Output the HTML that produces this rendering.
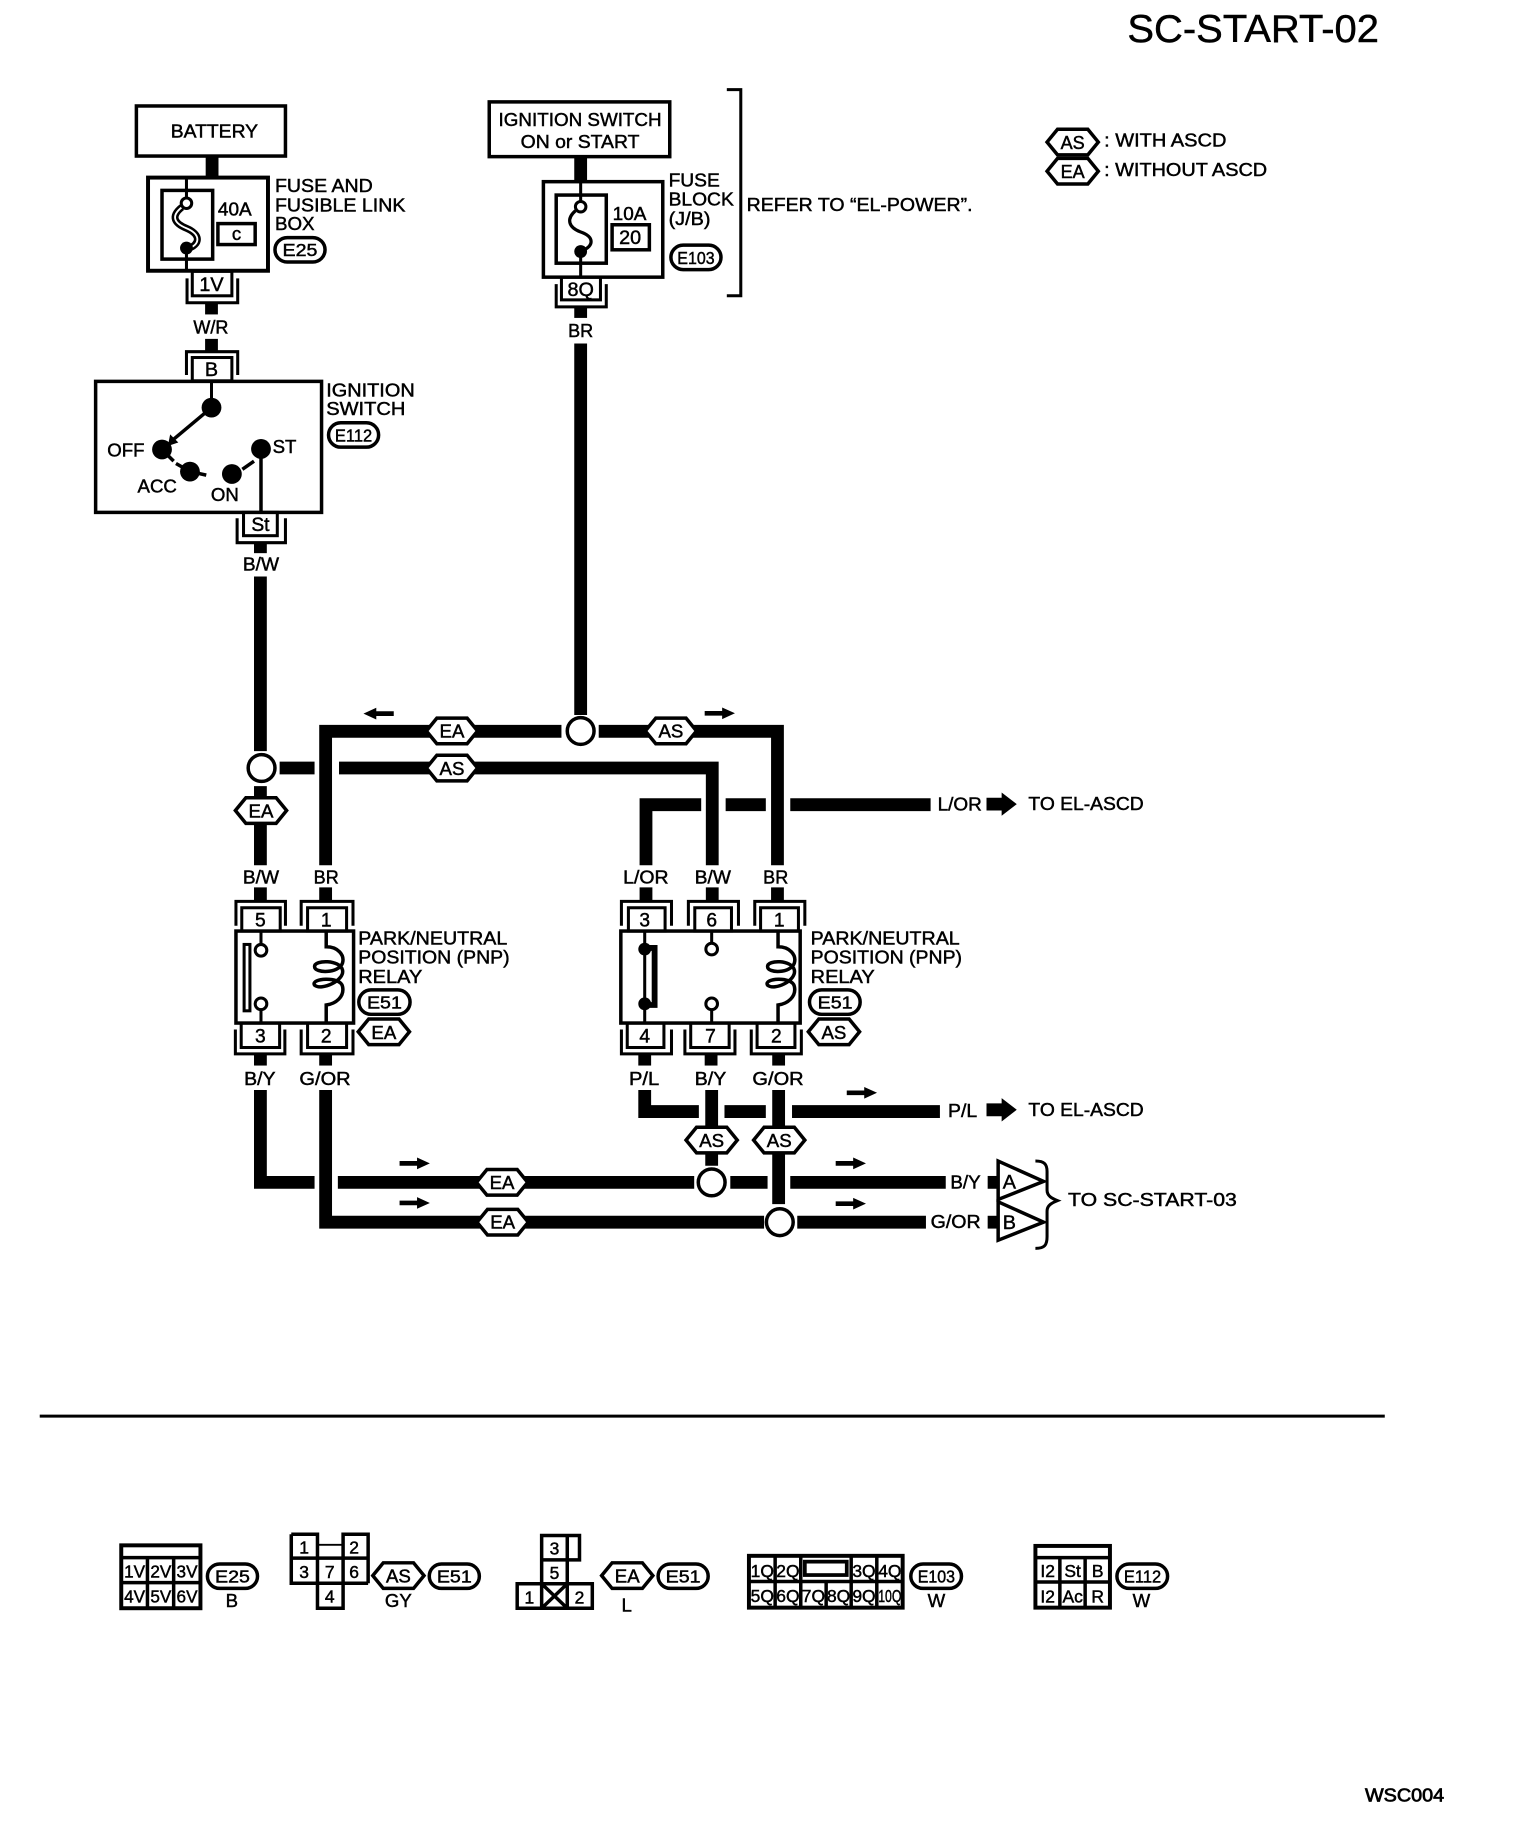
<!DOCTYPE html>
<html><head><meta charset="utf-8"><title>SC-START-02</title>
<style>
html,body{margin:0;padding:0;background:#fff}
svg{display:block}
text{font-family:"Liberation Sans",Arial,sans-serif;fill:#000;stroke:#000;stroke-width:.4;font-size:16px}
.m{text-anchor:middle}
.w{fill:none;stroke:#000;stroke-width:11;stroke-linejoin:miter}
.n{fill:none;stroke:#000;stroke-width:3}
.t{fill:none;stroke:#000;stroke-width:2.6}
.b{fill:#fff;stroke:#000;stroke-width:3}
.s{font-size:14.5px}
.c{font-size:15px}
</style></head><body>
<svg xmlns="http://www.w3.org/2000/svg" width="1520" height="1826" viewBox="0 0 1305 1568">
<defs>
<path id="hx" d="M-22,0 L-13,-11 L13,-11 L22,0 L13,11 L-13,11Z" fill="#fff" stroke="#000" stroke-width="3"/>
<path id="ar" d="M-13,-2 H2 V-5 L13,0 L2,5 V2 H-13Z" fill="#000"/>
<path id="bar" d="M-13,-5.5 H0 V-10 L13,0 L0,10 V5.5 H-13Z" fill="#000"/>
</defs>
<rect width="1305" height="1568" fill="#fff"/>

<text x="968" y="36" style="font-size:33.5px" textLength="216" lengthAdjust="spacingAndGlyphs">SC-START-02</text>

<!-- wires -->
<line class="w" x1="182" y1="133" x2="182" y2="153"/>
<line class="w" x1="181.5" y1="260" x2="181.5" y2="270"/>
<line class="w" x1="181.5" y1="291" x2="181.5" y2="302"/>
<line class="w" x1="498.5" y1="135" x2="498.5" y2="156"/>
<line class="w" x1="498.5" y1="263" x2="498.5" y2="273"/>
<line class="w" x1="498.5" y1="295" x2="498.5" y2="614"/>
<line class="w" x1="223.5" y1="466" x2="223.5" y2="475"/>
<line class="w" x1="223.5" y1="495" x2="223.5" y2="645"/>
<line class="w" x1="223.5" y1="675" x2="223.5" y2="743"/>
<polyline class="w" points="279.5,743 279.5,628 482,628"/>
<polyline class="w" points="514,628 667.5,628 667.5,743"/>
<line class="w" x1="240" y1="659.5" x2="270" y2="659.5"/>
<polyline class="w" points="291,659.5 611.5,659.5 611.5,743"/>
<polyline class="w" points="554.6,743 554.6,691 602,691"/>
<line class="w" x1="623" y1="691" x2="657.5" y2="691"/>
<line class="w" x1="678.5" y1="691" x2="799" y2="691"/>
<line class="w" x1="223.5" y1="762" x2="223.5" y2="774"/>
<line class="w" x1="279.5" y1="762" x2="279.5" y2="774"/>
<line class="w" x1="554.6" y1="762" x2="554.6" y2="774"/>
<line class="w" x1="611.5" y1="762" x2="611.5" y2="774"/>
<line class="w" x1="667.5" y1="762" x2="667.5" y2="774"/>
<line class="w" x1="223.5" y1="905" x2="223.5" y2="915"/>
<line class="w" x1="279.5" y1="905" x2="279.5" y2="915"/>
<line class="w" x1="553.5" y1="905" x2="553.5" y2="915"/>
<line class="w" x1="610.5" y1="905" x2="610.5" y2="915"/>
<line class="w" x1="668.5" y1="905" x2="668.5" y2="915"/>
<polyline class="w" points="223.5,936 223.5,1015.3 270,1015.3"/>
<line class="w" x1="290" y1="1015.3" x2="596" y2="1015.3"/>
<line class="w" x1="627" y1="1015.3" x2="659" y2="1015.3"/>
<line class="w" x1="678.5" y1="1015.3" x2="812" y2="1015.3"/>
<polyline class="w" points="279.5,936 279.5,1049.5 656,1049.5"/>
<line class="w" x1="684.5" y1="1049.5" x2="795" y2="1049.5"/>
<polyline class="w" points="553.5,936 553.5,954.5 600,954.5"/>
<line class="w" x1="622" y1="954.5" x2="657.5" y2="954.5"/>
<line class="w" x1="680" y1="954.5" x2="807" y2="954.5"/>
<line class="w" x1="611" y1="936" x2="611" y2="1001"/>
<line class="w" x1="668.5" y1="936" x2="668.5" y2="1034"/>
<line class="w" x1="848" y1="1015.3" x2="858" y2="1015.3"/>
<line class="w" x1="848" y1="1049.5" x2="858" y2="1049.5"/>

<!-- junctions -->
<circle class="b" cx="498.5" cy="627.7" r="11.5"/>
<circle class="b" cx="224.5" cy="659.5" r="11.5"/>
<circle class="b" cx="611" cy="1015.3" r="11.5"/>
<circle class="b" cx="669.5" cy="1049.5" r="11.5"/>

<!-- Battery -->
<rect class="n" x="117" y="91" width="128" height="43"/>
<text class="m" x="184" y="118" textLength="75" lengthAdjust="spacingAndGlyphs">BATTERY</text>

<!-- Fuse link box -->
<rect class="n" x="127" y="152.5" width="103" height="80" style="stroke-width:3.4"/>
<rect class="n" x="139" y="163.5" width="43.5" height="59"/>
<line class="t" x1="160" y1="152" x2="160" y2="172"/>
<line class="t" x1="160" y1="213" x2="160" y2="233"/>
<path d="M156,178 C146,186 150,192 160,196 C172,201 173,210 160,214" fill="none" stroke="#000" stroke-width="6"/>
<path d="M156,178 C146,186 150,192 160,196 C172,201 173,210 160,214" fill="none" stroke="#fff" stroke-width="1.6"/>
<circle cx="160" cy="174.5" r="4.5" fill="#fff" stroke="#000" stroke-width="2.6"/>
<circle cx="160" cy="213" r="5.5" fill="#000"/>
<text x="187" y="185" textLength="29" lengthAdjust="spacingAndGlyphs">40A</text>
<rect class="n" x="187" y="192" width="32" height="18"/>
<text class="m" x="203" y="206" style="font-size:16px">c</text>
<text x="236" y="165" textLength="84" lengthAdjust="spacingAndGlyphs">FUSE AND</text>
<text x="236" y="181.5" textLength="112" lengthAdjust="spacingAndGlyphs">FUSIBLE LINK</text>
<text x="236" y="197.5" textLength="34" lengthAdjust="spacingAndGlyphs">BOX</text>
<rect class="n" x="236" y="204" width="43" height="21" rx="10.5"/>
<text class="m c" x="257.5" y="220" textLength="30" lengthAdjust="spacingAndGlyphs">E25</text>

<!-- 1V connector -->
<rect class="t" x="165" y="233" width="34" height="21"/>
<path class="t" d="M160.5,239 V260 H204 V239"/>
<text class="m" x="181.5" y="250" style="font-size:17px">1V</text>
<text class="m" x="181" y="286.5" style="font-size:15.5px">W/R</text>

<!-- B connector -->
<rect class="t" x="165" y="307" width="34" height="20"/>
<path class="t" d="M160,322 V302 H204 V322"/>
<text class="m" x="181.5" y="323" style="font-size:17px">B</text>

<!-- Ignition switch -->
<rect class="n" x="82" y="327.5" width="194" height="112.5"/>
<line class="t" x1="181.5" y1="327" x2="181.5" y2="350"/>
<circle cx="181.5" cy="350" r="8.5" fill="#000"/>
<line x1="181.5" y1="350" x2="148" y2="378" stroke="#000" stroke-width="3"/>
<path d="M144,383 L146,373 L153,380Z" fill="#000"/>
<circle cx="139" cy="386" r="8.5" fill="#000"/>
<circle cx="163" cy="405" r="8.5" fill="#000"/>
<circle cx="199" cy="407" r="8.5" fill="#000"/>
<circle cx="224" cy="385.5" r="8.5" fill="#000"/>
<line x1="144" y1="391" x2="149" y2="396" stroke="#000" stroke-width="3"/>
<line x1="151" y1="398" x2="158" y2="402" stroke="#000" stroke-width="3"/>
<line x1="168" y1="406" x2="177" y2="408" stroke="#000" stroke-width="3"/>
<line x1="208" y1="403" x2="218" y2="396" stroke="#000" stroke-width="3"/>
<line class="t" x1="224" y1="385" x2="224" y2="440" style="stroke-width:3"/>
<text x="92" y="392">OFF</text>
<text x="234" y="389">ST</text>
<text x="118" y="423">ACC</text>
<text x="181" y="430">ON</text>
<text x="280" y="340.5" textLength="76" lengthAdjust="spacingAndGlyphs">IGNITION</text>
<text x="280" y="356.5" textLength="68" lengthAdjust="spacingAndGlyphs">SWITCH</text>
<rect class="n" x="282" y="363" width="43" height="21" rx="10.5"/>
<text class="m c" x="303.5" y="379" textLength="32" lengthAdjust="spacingAndGlyphs">E112</text>
<rect class="t" x="209" y="440" width="29" height="20"/>
<path class="t" d="M203.5,445 V466 H245 V445"/>
<text class="m" x="223.5" y="456" style="font-size:16.5px">St</text>
<text class="m" x="224" y="490" style="font-size:15.5px" textLength="31" lengthAdjust="spacingAndGlyphs">B/W</text>

<!-- Ignition switch ON or START -->
<rect class="n" x="420" y="87.5" width="155" height="47"/>
<text class="m" x="498" y="108" textLength="140" lengthAdjust="spacingAndGlyphs">IGNITION SWITCH</text>
<text class="m" x="498" y="127" textLength="102" lengthAdjust="spacingAndGlyphs">ON or START</text>
<rect class="n" x="466.5" y="156" width="102.5" height="82"/>
<rect class="n" x="477.5" y="167.5" width="43" height="58.5"/>
<line class="t" x1="498.5" y1="156" x2="498.5" y2="173"/>
<line class="t" x1="498.5" y1="216" x2="498.5" y2="238"/>
<path d="M494,181 C486,188 488,195 498,199 C510,203 511,211 498.5,216" fill="none" stroke="#000" stroke-width="2.8"/>
<circle cx="498.5" cy="177.5" r="4.5" fill="#fff" stroke="#000" stroke-width="2.6"/>
<circle cx="498.5" cy="216" r="5.5" fill="#000"/>
<text x="526" y="189" textLength="29" lengthAdjust="spacingAndGlyphs">10A</text>
<rect class="n" x="525.5" y="193" width="32" height="21.5"/>
<text class="m" x="541" y="209.5" style="font-size:17px">20</text>
<text x="574" y="160" textLength="44" lengthAdjust="spacingAndGlyphs">FUSE</text>
<text x="574" y="176.5" textLength="56" lengthAdjust="spacingAndGlyphs">BLOCK</text>
<text x="574" y="193" textLength="36" lengthAdjust="spacingAndGlyphs">(J/B)</text>
<rect class="n" x="576" y="210.5" width="43" height="21" rx="10.5"/>
<text class="m c" x="597.5" y="226.5" textLength="32" lengthAdjust="spacingAndGlyphs">E103</text>
<rect class="t" x="482" y="238" width="33.5" height="19.5"/>
<path class="t" d="M477.5,244 V263.5 H520.5 V244"/>
<text class="m" x="498.5" y="254" style="font-size:17px">8Q</text>
<text class="m" x="498.5" y="289.5" style="font-size:15.5px">BR</text>
<path d="M624,77 H636 V254 H624" fill="none" stroke="#000" stroke-width="2.6"/>
<text x="641" y="181" textLength="194" lengthAdjust="spacingAndGlyphs">REFER TO “EL-POWER”.</text>

<!-- legend -->
<use href="#hx" x="921" y="122"/>
<text class="m" x="921" y="128" style="font-size:15.5px">AS</text>
<use href="#hx" x="921" y="147"/>
<text class="m" x="921" y="153" style="font-size:15.5px">EA</text>
<text x="948" y="126" textLength="105" lengthAdjust="spacingAndGlyphs">: WITH ASCD</text>
<text x="948" y="151" textLength="140" lengthAdjust="spacingAndGlyphs">: WITHOUT ASCD</text>

<!-- wire hexes -->
<use href="#hx" x="388" y="627.7"/><text class="m" x="388" y="633.5" style="font-size:16px">EA</text>
<use href="#hx" x="576" y="627.7"/><text class="m" x="576" y="633.5" style="font-size:16px">AS</text>
<use href="#hx" x="388" y="659.5"/><text class="m" x="388" y="665.5" style="font-size:16px">AS</text>
<use href="#hx" x="224" y="696"/><text class="m" x="224" y="702" style="font-size:16px">EA</text>
<use href="#hx" x="431" y="1015.3"/><text class="m" x="431" y="1021" style="font-size:16px">EA</text>
<use href="#hx" x="431.5" y="1049.5"/><text class="m" x="431.5" y="1055" style="font-size:16px">EA</text>
<use href="#hx" x="611" y="979"/><text class="m" x="611" y="985" style="font-size:16px">AS</text>
<use href="#hx" x="669" y="979"/><text class="m" x="669" y="985" style="font-size:16px">AS</text>

<!-- flow arrows -->
<use href="#ar" transform="translate(325,612.8) scale(-1,1)"/>
<use href="#ar" transform="translate(618,612.5)"/>
<use href="#ar" transform="translate(356,999)"/>
<use href="#ar" transform="translate(356,1033)"/>
<use href="#ar" transform="translate(730.5,999)"/>
<use href="#ar" transform="translate(730.5,1033.6)"/>
<use href="#ar" transform="translate(740,938.4)"/>

<!-- wire labels -->
<text class="m" x="224" y="758.5" style="font-size:15.5px" textLength="31" lengthAdjust="spacingAndGlyphs">B/W</text>
<text class="m" x="280" y="758.5" style="font-size:15.5px">BR</text>
<text class="m" x="554.5" y="758.5" style="font-size:15.5px" textLength="39" lengthAdjust="spacingAndGlyphs">L/OR</text>
<text class="m" x="612" y="758.5" style="font-size:15.5px" textLength="31" lengthAdjust="spacingAndGlyphs">B/W</text>
<text class="m" x="666" y="758.5" style="font-size:15.5px">BR</text>
<text class="m" x="223" y="931.5" style="font-size:15.5px" textLength="27" lengthAdjust="spacingAndGlyphs">B/Y</text>
<text class="m" x="279" y="931.5" style="font-size:15.5px" textLength="44" lengthAdjust="spacingAndGlyphs">G/OR</text>
<text class="m" x="553" y="931.5" style="font-size:15.5px" textLength="26" lengthAdjust="spacingAndGlyphs">P/L</text>
<text class="m" x="610" y="931.5" style="font-size:15.5px" textLength="27" lengthAdjust="spacingAndGlyphs">B/Y</text>
<text class="m" x="668" y="931.5" style="font-size:15.5px" textLength="44" lengthAdjust="spacingAndGlyphs">G/OR</text>

<!-- Left relay -->
<rect class="n" x="202.5" y="799.5" width="101" height="79"/>
<rect class="t" x="207.5" y="779.5" width="33" height="20"/>
<path class="t" d="M202.5,795 V774 H245 V795"/>
<text class="m" x="223.5" y="795.5" style="font-size:16.5px">5</text>
<rect class="t" x="264" y="779.5" width="33.5" height="20"/>
<path class="t" d="M258.5,795 V774 H303 V795"/>
<text class="m" x="280" y="795.5" style="font-size:16.5px">1</text>
<rect class="t" x="207" y="878.5" width="33" height="21"/>
<path class="t" d="M202,884 V905 H244.5 V884"/>
<text class="m" x="223.5" y="895" style="font-size:16.5px">3</text>
<rect class="t" x="264" y="878.5" width="33.5" height="21"/>
<path class="t" d="M258.5,884 V905 H303 V884"/>
<text class="m" x="280" y="895" style="font-size:16.5px">2</text>
<line class="t" x1="224" y1="799" x2="224" y2="811"/>
<circle cx="224" cy="816" r="5" fill="#fff" stroke="#000" stroke-width="2.6"/>
<line class="t" x1="224" y1="867" x2="224" y2="878"/>
<circle cx="224" cy="862" r="5" fill="#fff" stroke="#000" stroke-width="2.6"/>
<rect class="t" x="209.5" y="811" width="5" height="57"/>
<path class="n" d="M280,799 V813 C290,813 296,820 294,827 C291,836 270,836 270,830 C270,824 292,824 294,833 C296,842 276,851 270,846 C266,840 292,838 294,847 C296,856 288,862 280,863 V878"/>

<text x="307.5" y="811" textLength="128" lengthAdjust="spacingAndGlyphs">PARK/NEUTRAL</text>
<text x="307.5" y="827.5" textLength="130" lengthAdjust="spacingAndGlyphs">POSITION (PNP)</text>
<text x="307.5" y="844" textLength="55" lengthAdjust="spacingAndGlyphs">RELAY</text>
<rect class="n" x="308" y="850" width="44" height="21" rx="10.5"/>
<text class="m c" x="330" y="866" textLength="30" lengthAdjust="spacingAndGlyphs">E51</text>
<use href="#hx" x="329.5" y="886"/><text class="m" x="329.5" y="892" style="font-size:16px">EA</text>

<!-- Right relay -->
<rect class="n" x="533" y="799.5" width="154" height="79"/>
<rect class="t" x="539.5" y="779.5" width="31.5" height="20"/>
<path class="t" d="M533.5,795 V774 H576.5 V795"/>
<text class="m" x="553.5" y="795.5" style="font-size:16.5px">3</text>
<rect class="t" x="596.5" y="779.5" width="31.5" height="20"/>
<path class="t" d="M591,795 V774 H634 V795"/>
<text class="m" x="611" y="795.5" style="font-size:16.5px">6</text>
<rect class="t" x="653" y="779.5" width="32.5" height="20"/>
<path class="t" d="M648,795 V774 H691 V795"/>
<text class="m" x="669" y="795.5" style="font-size:16.5px">1</text>
<rect class="t" x="538.5" y="878.5" width="31.5" height="21"/>
<path class="t" d="M533.5,884 V905 H576.5 V884"/>
<text class="m" x="553.5" y="895" style="font-size:16.5px">4</text>
<rect class="t" x="593" y="878.5" width="33" height="21"/>
<path class="t" d="M588,884 V905 H631 V884"/>
<text class="m" x="610" y="895" style="font-size:16.5px">7</text>
<rect class="t" x="650" y="878.5" width="32.5" height="21"/>
<path class="t" d="M645,884 V905 H688 V884"/>
<text class="m" x="666.5" y="895" style="font-size:16.5px">2</text>
<line class="t" x1="553.5" y1="799" x2="553.5" y2="878"/>
<circle cx="553.5" cy="815" r="5.5" fill="#000"/>
<circle cx="553.5" cy="862" r="5.5" fill="#000"/>
<path d="M553.5,814 H562 V863 H553.5" fill="none" stroke="#000" stroke-width="5"/>
<line class="t" x1="611" y1="799" x2="611" y2="810"/>
<circle cx="611" cy="815" r="5" fill="#fff" stroke="#000" stroke-width="2.6"/>
<line class="t" x1="611" y1="867" x2="611" y2="878"/>
<circle cx="611" cy="862" r="5" fill="#fff" stroke="#000" stroke-width="2.6"/>
<path class="n" d="M668,799 V813 C678,813 684,820 682,827 C679,836 659,836 659,830 C659,824 680,824 682,833 C684,842 665,851 659,846 C655,840 680,838 682,847 C684,856 676,862 668,863 V878"/>

<text x="696" y="811" textLength="128" lengthAdjust="spacingAndGlyphs">PARK/NEUTRAL</text>
<text x="696" y="827.5" textLength="130" lengthAdjust="spacingAndGlyphs">POSITION (PNP)</text>
<text x="696" y="844" textLength="55" lengthAdjust="spacingAndGlyphs">RELAY</text>
<rect class="n" x="695" y="850" width="43.5" height="21" rx="10.5"/>
<text class="m c" x="717" y="866" textLength="30" lengthAdjust="spacingAndGlyphs">E51</text>
<use href="#hx" x="716" y="886"/><text class="m" x="716" y="892" style="font-size:16px">AS</text>

<!-- outgoing -->
<text x="805" y="696" textLength="38" lengthAdjust="spacingAndGlyphs" style="font-size:15.5px">L/OR</text>
<use href="#bar" transform="translate(860,690.5)"/>
<text x="883" y="695.5" textLength="99" lengthAdjust="spacingAndGlyphs">TO EL-ASCD</text>
<text x="814" y="959" textLength="25" lengthAdjust="spacingAndGlyphs" style="font-size:15.5px">P/L</text>
<use href="#bar" transform="translate(860,953)"/>
<text x="883" y="958.5" textLength="99" lengthAdjust="spacingAndGlyphs">TO EL-ASCD</text>
<text x="816" y="1020.5" textLength="26" lengthAdjust="spacingAndGlyphs" style="font-size:15.5px">B/Y</text>
<text x="799" y="1054.5" textLength="43" lengthAdjust="spacingAndGlyphs" style="font-size:15.5px">G/OR</text>
<path class="n" d="M857,997 L896,1014.5 L857,1030Z" style="fill:#fff"/>
<text x="861" y="1020.5" style="font-size:17px">A</text>
<path class="n" d="M857,1032 L896,1049.5 L857,1065Z" style="fill:#fff"/>
<text x="861" y="1055.5" style="font-size:17px">B</text>
<path d="M889,997 C897,997 899,1000 899,1006 V1022 C899,1027 903,1029 908,1031 C903,1033 899,1035 899,1040 V1062 C899,1069 897,1072 889,1072" fill="none" stroke="#000" stroke-width="2.6"/>
<text x="917" y="1035.5" textLength="145" lengthAdjust="spacingAndGlyphs">TO SC-START-03</text>

<!-- rule -->
<line x1="34" y1="1216" x2="1189" y2="1216" stroke="#000" stroke-width="2.6"/>

<!-- E25 connector -->
<rect class="n" x="104" y="1327" width="68" height="54" style="stroke-width:3.4"/>
<path class="n" d="M104,1337.5 H172 M104,1359 H172 M126.5,1337.5 V1381 M149,1337.5 V1381"/>
<text class="m c" x="115.5" y="1354.5" textLength="18" lengthAdjust="spacingAndGlyphs">1V</text>
<text class="m c" x="138" y="1354.5" textLength="18" lengthAdjust="spacingAndGlyphs">2V</text>
<text class="m c" x="160.5" y="1354.5" textLength="18" lengthAdjust="spacingAndGlyphs">3V</text>
<text class="m c" x="115.5" y="1376" textLength="18" lengthAdjust="spacingAndGlyphs">4V</text>
<text class="m c" x="138" y="1376" textLength="18" lengthAdjust="spacingAndGlyphs">5V</text>
<text class="m c" x="160.5" y="1376" textLength="18" lengthAdjust="spacingAndGlyphs">6V</text>
<rect class="n" x="178" y="1343" width="43" height="21" rx="10.5"/>
<text class="m c" x="199.5" y="1359" textLength="30" lengthAdjust="spacingAndGlyphs">E25</text>
<text class="m" x="199" y="1380">B</text>

<!-- E51 AS connector -->
<path class="n" d="M250,1317.5 H272.5 V1338 M294.5,1338 V1317.5 H316 V1359.5 M250,1317.5 V1359.5 H316 M250,1338 H316 M272.5,1338 V1381 H294.5 V1338"/>
<line x1="272" y1="1326.5" x2="295" y2="1326.5" stroke="#000" stroke-width="1.6"/>
<text class="m c" x="261" y="1334">1</text>
<text class="m c" x="304" y="1334">2</text>
<text class="m c" x="261" y="1355">3</text>
<text class="m c" x="283" y="1355">7</text>
<text class="m c" x="304" y="1355">6</text>
<text class="m c" x="283" y="1376">4</text>
<use href="#hx" x="342" y="1353"/><text class="m" x="342" y="1359" style="font-size:16px">AS</text>
<rect class="n" x="368.5" y="1343" width="43" height="21" rx="10.5"/>
<text class="m c" x="390" y="1359" textLength="30" lengthAdjust="spacingAndGlyphs">E51</text>
<text class="m" x="342" y="1380">GY</text>

<!-- E51 EA connector -->
<path class="n" d="M465,1360 V1318.5 H497.5 V1339.5 H465 M487,1318.5 V1360 M444,1360 H508.5 V1381 H444Z M465,1360 V1381 M487,1360 V1381 M465,1360 L487,1381 M487,1360 L465,1381"/>
<text class="m c" x="476" y="1335">3</text>
<text class="m c" x="476" y="1356">5</text>
<text class="m c" x="454.5" y="1377">1</text>
<text class="m c" x="497.5" y="1377">2</text>
<use href="#hx" x="538.5" y="1353"/><text class="m" x="538.5" y="1359" style="font-size:16px">EA</text>
<rect class="n" x="565" y="1343" width="43" height="21" rx="10.5"/>
<text class="m c" x="586.5" y="1359" textLength="30" lengthAdjust="spacingAndGlyphs">E51</text>
<text class="m" x="538" y="1384">L</text>

<!-- E103 connector -->
<rect class="n" x="643" y="1336" width="132" height="44.5" style="stroke-width:3.4"/>
<path class="n" d="M643,1358 H775 M665.5,1336 V1380.5 M687.5,1336 V1380.5 M730.8,1336 V1380.5 M752.8,1336 V1380.5 M709.3,1358 V1380.5"/>
<rect x="691" y="1341" width="36" height="11.5" fill="none" stroke="#000" stroke-width="3.2"/>
<text class="m c" x="654.5" y="1354" textLength="20" lengthAdjust="spacingAndGlyphs">1Q</text>
<text class="m c" x="676.5" y="1354" textLength="20" lengthAdjust="spacingAndGlyphs">2Q</text>
<text class="m c" x="741.8" y="1354" textLength="20" lengthAdjust="spacingAndGlyphs">3Q</text>
<text class="m c" x="764" y="1354" textLength="20" lengthAdjust="spacingAndGlyphs">4Q</text>
<text class="m c" x="654.5" y="1375.5" textLength="20" lengthAdjust="spacingAndGlyphs">5Q</text>
<text class="m c" x="676.5" y="1375.5" textLength="20" lengthAdjust="spacingAndGlyphs">6Q</text>
<text class="m c" x="698.4" y="1375.5" textLength="20" lengthAdjust="spacingAndGlyphs">7Q</text>
<text class="m c" x="720" y="1375.5" textLength="20" lengthAdjust="spacingAndGlyphs">8Q</text>
<text class="m c" x="741.8" y="1375.5" textLength="20" lengthAdjust="spacingAndGlyphs">9Q</text>
<text class="m c" x="764" y="1375.5" textLength="20" lengthAdjust="spacingAndGlyphs">10Q</text>
<rect class="n" x="782" y="1343" width="43.5" height="21" rx="10.5"/>
<text class="m c" x="804" y="1359" textLength="32" lengthAdjust="spacingAndGlyphs">E103</text>
<text class="m" x="804" y="1380">W</text>

<!-- E112 connector -->
<rect class="n" x="889" y="1327.5" width="64" height="53" style="stroke-width:3.4"/>
<path class="n" d="M889,1337.5 H953 M889,1358.5 H953 M910,1337.5 V1380.5 M931.7,1337.5 V1380.5"/>
<text class="m c" x="899.5" y="1354">I2</text>
<text class="m c" x="921" y="1354">St</text>
<text class="m c" x="942.5" y="1354">B</text>
<text class="m c" x="899.5" y="1376">I2</text>
<text class="m c" x="921" y="1376">Ac</text>
<text class="m c" x="942.5" y="1376">R</text>
<rect class="n" x="959" y="1343" width="43.5" height="21" rx="10.5"/>
<text class="m c" x="981" y="1359" textLength="32" lengthAdjust="spacingAndGlyphs">E112</text>
<text class="m" x="980" y="1380">W</text>

<text x="1172" y="1547" textLength="68" lengthAdjust="spacingAndGlyphs" style="font-size:15.5px;stroke-width:.6">WSC004</text>
</svg>
</body></html>
